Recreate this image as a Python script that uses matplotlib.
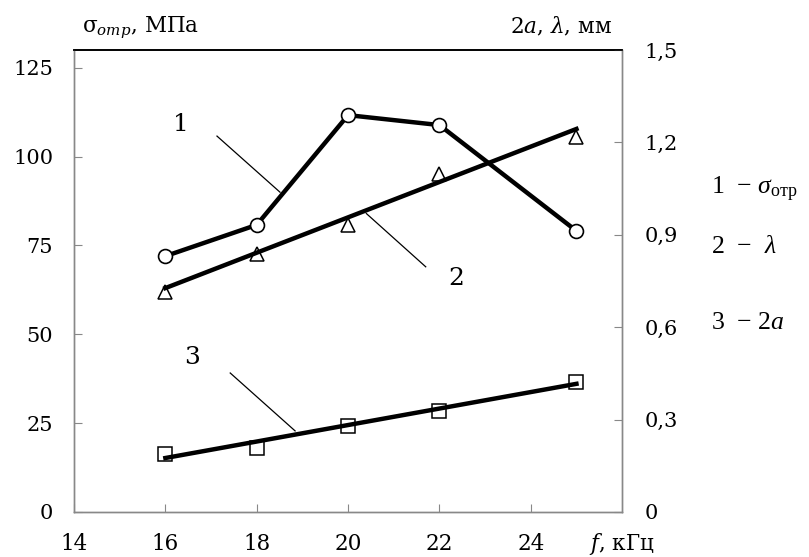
import matplotlib
matplotlib.use('Agg')
import matplotlib.pyplot as plt

# frequency, kHz
freq = [16, 18, 20, 22, 25]
# curve 1: sigma_otr, MPa (left axis)
sigma = [72.0, 80.8, 111.7, 108.9, 79.1]
# curve 2: lambda, mm (right axis), measured points and trend line ends
lam = [0.714, 0.838, 0.932, 1.097, 1.218]
lam_fit_x = [16, 25]
lam_fit = [0.727, 1.244]
# curve 3: 2a, mm (right axis), measured points and trend line ends
two_a = [0.188, 0.208, 0.279, 0.328, 0.422]
a_fit_x = [16, 25]
a_fit = [0.175, 0.416]

x_ticks = [14, 16, 18, 20, 22, 24]
left_ticks = [0, 25, 50, 75, 100, 125]
right_ticks = [0, 0.3, 0.6, 0.9, 1.2, 1.5]
right_labels = ['0', '0,3', '0,6', '0,9', '1,2', '1,5']

plt.rcParams['mathtext.fontset'] = 'custom'
plt.rcParams['mathtext.rm'] = 'Liberation Serif'
plt.rcParams['mathtext.it'] = 'Liberation Serif:italic'

SERIF = 'DejaVu Serif'
TIMES = 'Liberation Serif'

fig = plt.figure(figsize=(8.09, 5.57), dpi=100)
ax = fig.add_axes([0.0915, 0.081, 0.6775, 0.829])
ax2 = ax.twinx()

ax.set_xlim(14, 26)
ax.set_ylim(0, 130)
ax2.set_ylim(0, 1.5)

# curve 1
ax.plot(freq, sigma, color='black', lw=3.2, marker='o', ms=10,
        mfc='white', mec='black', mew=1.2, zorder=3)
# curve 2
ax2.plot(freq, lam, ls='none', marker='^', ms=10, mfc='none',
         mec='black', mew=1.1, zorder=2)
ax2.plot(lam_fit_x, lam_fit, color='black', lw=3.2, zorder=3)
# curve 3
ax2.plot(freq, two_a, ls='none', marker='s', ms=10, mfc='none',
         mec='black', mew=1.1, zorder=2)
ax2.plot(a_fit_x, a_fit, color='black', lw=3.2, zorder=3)

# ticks
ax.set_xticks(x_ticks)
ax.set_xticklabels([str(t) for t in x_ticks], fontfamily=SERIF, fontsize=15.5)
ax.set_yticks(left_ticks)
ax.set_yticklabels([str(t) for t in left_ticks], fontfamily=SERIF, fontsize=15)
ax2.set_yticks(right_ticks)
ax2.set_yticklabels(right_labels, fontfamily=SERIF, fontsize=15)
ax.tick_params(axis='x', direction='in', length=6, width=0.8, color='#888888', pad=15)
ax.tick_params(axis='y', direction='in', length=6, width=0.8, color='#888888', pad=15)
ax2.tick_params(axis='y', direction='in', length=6, width=0.8, color='#888888', pad=16)

for a in (ax, ax2):
    for side in ('left', 'right', 'bottom'):
        a.spines[side].set_color('#888888')
        a.spines[side].set_linewidth(1.0)
    a.spines['top'].set_color('black')
    a.spines['top'].set_linewidth(1.2)

# x axis label in place of the last tick label
ax.text(26, -0.07, '$\\mathit{f}$, кГц', transform=ax.get_xaxis_transform(),
        ha='center', va='center', fontfamily=SERIF, fontsize=15.5,
        math_fontfamily='dejavuserif')

# axis titles
fig.text(82 / 809, 1 - 28 / 557, '$\\mathrm{σ}_{отр}$, МПа', ha='left', va='center',
         fontfamily=SERIF, fontsize=15.5, math_fontfamily='dejavuserif')
fig.text(612 / 809, 1 - 27 / 557, '$\\mathit{2a}$, $λ$, мм', ha='right', va='center',
         fontfamily=SERIF, fontsize=15.5, math_fontfamily='dejavuserif')

# curve numbers with leader lines
ax.text(16.35, 109, '1', fontfamily=SERIF, fontsize=18, ha='center', va='center')
ax.plot([17.13, 18.51], [105.8, 90.0], color='black', lw=0.9)
ax.text(22.36, 65.8, '2', fontfamily=SERIF, fontsize=18, ha='center', va='center')
ax.plot([20.4, 21.7], [84, 69], color='black', lw=0.9)
ax.text(16.58, 43.6, '3', fontfamily=SERIF, fontsize=18, ha='center', va='center')
ax.plot([17.42, 18.84], [39.1, 22.8], color='black', lw=0.9)

# legend on the right
fig.text(711 / 809, 1 - 189 / 557, '1  $-$ $σ_{\\mathrm{отр}}$', ha='left', va='center',
         fontfamily=TIMES, fontsize=18.5)
fig.text(711 / 809, 1 - 247 / 557, '2  $-$  $λ$', ha='left', va='center',
         fontfamily=TIMES, fontsize=18.5)
fig.text(711 / 809, 1 - 323 / 557, '3  $-$ $2a$', ha='left', va='center',
         fontfamily=TIMES, fontsize=18.5)

fig.savefig('out.png', dpi=100)
